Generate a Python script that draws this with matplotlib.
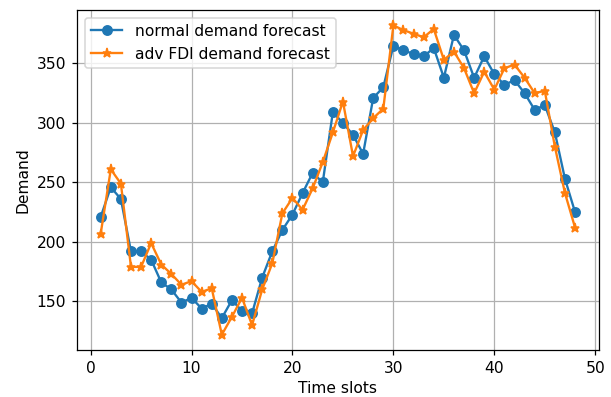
import numpy as np
import matplotlib
matplotlib.use("Agg")
import matplotlib.pyplot as plt

# time slots 1..48
slots = list(range(1, 49))

normal = [221, 246, 236, 192, 192, 185, 166, 160, 149, 153,
          144, 148, 136, 151, 142, 140, 170, 192, 210, 223,
          241, 258, 250, 309, 300, 290, 274, 321, 330, 365,
          361, 358, 356, 363, 338, 374, 361, 338, 356, 341,
          332, 336, 325, 311, 315, 292, 253, 225]

adv_fdi = [207, 261, 249, 179, 179, 199, 181, 173, 164, 167,
           158, 161, 122, 137, 153, 130, 160, 182, 224, 237,
           227, 245, 267, 292, 318, 272, 294, 304, 312, 382,
           378, 375, 372, 379, 353, 360, 346, 325, 343, 328,
           346, 349, 338, 325, 327, 280, 241, 212]

dpi = 112
fig = plt.figure(figsize=(611 / dpi, 397 / dpi), dpi=dpi)
ax = fig.add_axes([0.126, 0.118, 0.854, 0.857])

ax.plot(slots, normal, "o-", label="normal demand forecast")
ax.plot(slots, adv_fdi, "*-", label="adv FDI demand forecast")
ax.set_xlabel("Time slots", labelpad=3)
ax.set_ylabel("Demand")
ax.grid(True)
ax.legend(loc="upper left")

fig.savefig("out.png", dpi=dpi)
